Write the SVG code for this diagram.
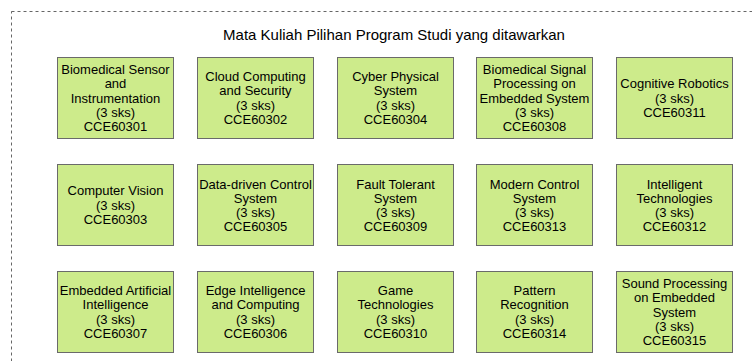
<svg xmlns="http://www.w3.org/2000/svg" width="752" height="361" viewBox="0 0 752 361">
<style>
.frame{fill:none;stroke:#666;stroke-width:1;stroke-dasharray:3 3}
.box{fill:#cdeb8b;stroke:#6a6a6a;stroke-width:1}
text{font-family:"Liberation Sans",Arial,sans-serif;fill:#000;text-anchor:middle}
.t{font-size:13px}
.title{font-size:15px}
</style>
<rect width="752" height="361" fill="#fff"/>
<g id="frame">
<rect class="frame" x="11.5" y="11.5" width="780" height="400"/>
<text class="title" x="394" y="40">Mata Kuliah Pilihan Program Studi yang ditawarkan</text>
</g>
<g id="connectors"/>
<g id="n1"><rect class="box" x="57.5" y="57.5" width="116" height="81"/><text class="t" x="115.5"><tspan x="115.5" y="73.5">Biomedical Sensor</tspan><tspan x="115.5" y="87.5">and</tspan><tspan x="115.5" y="102.5">Instrumentation</tspan><tspan x="115.5" y="116.5">(3 sks)</tspan><tspan x="115.5" y="130.5">CCE60301</tspan></text></g>
<g id="n2"><rect class="box" x="197.5" y="57.5" width="116" height="81"/><text class="t"><tspan x="255.5" y="80.5">Cloud Computing</tspan><tspan x="255.5" y="94.5">and Security</tspan><tspan x="255.5" y="109.5">(3 sks)</tspan><tspan x="255.5" y="123.5">CCE60302</tspan></text></g>
<g id="n3"><rect class="box" x="337.5" y="57.5" width="116" height="81"/><text class="t"><tspan x="395.5" y="80.5">Cyber Physical</tspan><tspan x="395.5" y="94.5">System</tspan><tspan x="395.5" y="109.5">(3 sks)</tspan><tspan x="395.5" y="123.5">CCE60304</tspan></text></g>
<g id="n4"><rect class="box" x="476.5" y="57.5" width="116" height="81"/><text class="t"><tspan x="534.5" y="73.5">Biomedical Signal</tspan><tspan x="534.5" y="87.5">Processing on</tspan><tspan x="534.5" y="102.5">Embedded System</tspan><tspan x="534.5" y="116.5">(3 sks)</tspan><tspan x="534.5" y="130.5">CCE60308</tspan></text></g>
<g id="n5"><rect class="box" x="616.5" y="57.5" width="116" height="81"/><text class="t"><tspan x="674.5" y="87.5">Cognitive Robotics</tspan><tspan x="674.5" y="102.5">(3 sks)</tspan><tspan x="674.5" y="116.5">CCE60311</tspan></text></g>

<g id="n6"><rect class="box" x="57.5" y="164.5" width="116" height="81"/><text class="t"><tspan x="115.5" y="194.5">Computer Vision</tspan><tspan x="115.5" y="209.5">(3 sks)</tspan><tspan x="115.5" y="223.5">CCE60303</tspan></text></g>
<g id="n7"><rect class="box" x="197.5" y="164.5" width="116" height="81"/><text class="t"><tspan x="255.5" y="188.5">Data-driven Control</tspan><tspan x="255.5" y="202.5">System</tspan><tspan x="255.5" y="216.5">(3 sks)</tspan><tspan x="255.5" y="230.5">CCE60305</tspan></text></g>
<g id="n8"><rect class="box" x="337.5" y="164.5" width="116" height="81"/><text class="t"><tspan x="395.5" y="188.5">Fault Tolerant</tspan><tspan x="395.5" y="202.5">System</tspan><tspan x="395.5" y="216.5">(3 sks)</tspan><tspan x="395.5" y="230.5">CCE60309</tspan></text></g>
<g id="n9"><rect class="box" x="476.5" y="164.5" width="116" height="81"/><text class="t"><tspan x="534.5" y="188.5">Modern Control</tspan><tspan x="534.5" y="202.5">System</tspan><tspan x="534.5" y="216.5">(3 sks)</tspan><tspan x="534.5" y="230.5">CCE60313</tspan></text></g>
<g id="n10"><rect class="box" x="616.5" y="164.5" width="116" height="81"/><text class="t"><tspan x="674.5" y="188.5">Intelligent</tspan><tspan x="674.5" y="202.5">Technologies</tspan><tspan x="674.5" y="216.5">(3 sks)</tspan><tspan x="674.5" y="230.5">CCE60312</tspan></text></g>

<g id="n11"><rect class="box" x="57.5" y="271.5" width="116" height="81"/><text class="t"><tspan x="115.5" y="294.5">Embedded Artificial</tspan><tspan x="115.5" y="308.5">Intelligence</tspan><tspan x="115.5" y="323.5">(3 sks)</tspan><tspan x="115.5" y="337.5">CCE60307</tspan></text></g>
<g id="n12"><rect class="box" x="197.5" y="271.5" width="116" height="81"/><text class="t"><tspan x="255.5" y="294.5">Edge Intelligence</tspan><tspan x="255.5" y="308.5">and Computing</tspan><tspan x="255.5" y="323.5">(3 sks)</tspan><tspan x="255.5" y="337.5">CCE60306</tspan></text></g>
<g id="n13"><rect class="box" x="337.5" y="271.5" width="116" height="81"/><text class="t"><tspan x="395.5" y="294.5">Game</tspan><tspan x="395.5" y="308.5">Technologies</tspan><tspan x="395.5" y="323.5">(3 sks)</tspan><tspan x="395.5" y="337.5">CCE60310</tspan></text></g>
<g id="n14"><rect class="box" x="476.5" y="271.5" width="116" height="81"/><text class="t"><tspan x="534.5" y="294.5">Pattern</tspan><tspan x="534.5" y="308.5">Recognition</tspan><tspan x="534.5" y="323.5">(3 sks)</tspan><tspan x="534.5" y="337.5">CCE60314</tspan></text></g>
<g id="n15"><rect class="box" x="616.5" y="271.5" width="116" height="81"/><text class="t"><tspan x="674.5" y="287.5">Sound Processing</tspan><tspan x="674.5" y="301.5">on Embedded</tspan><tspan x="674.5" y="316.5">System</tspan><tspan x="674.5" y="330.5">(3 sks)</tspan><tspan x="674.5" y="344.5">CCE60315</tspan></text></g>
</svg>
